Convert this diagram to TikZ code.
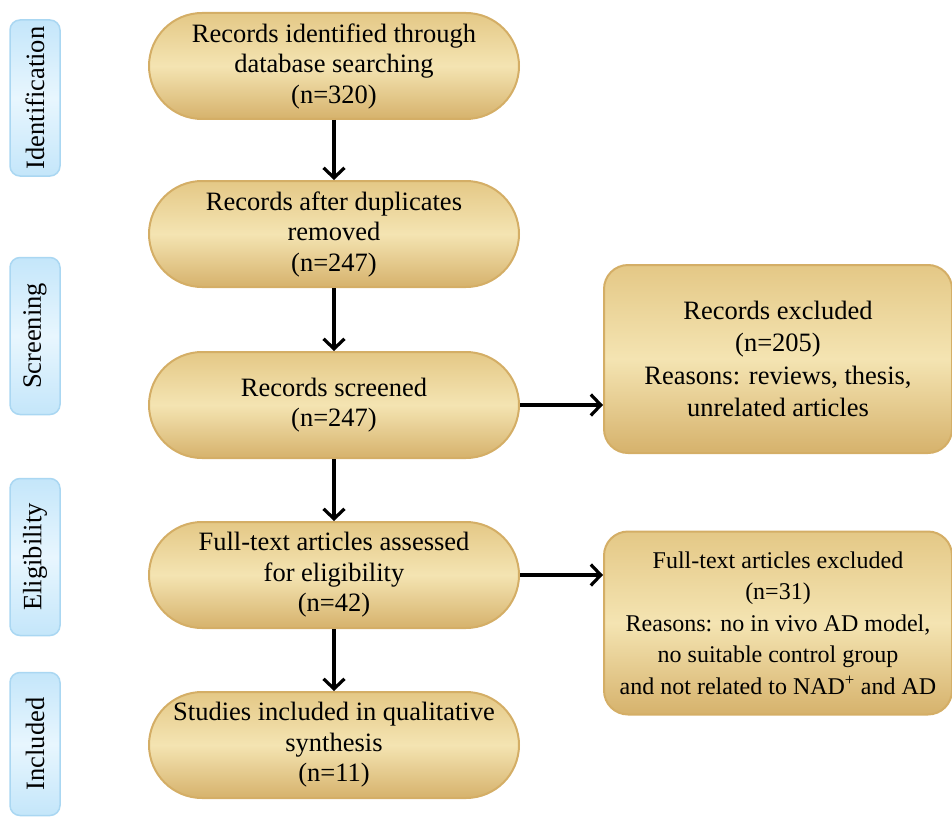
\documentclass[tikz,border=0pt]{standalone}
\usepackage{fontspec}
\setmainfont{Liberation Serif}
\usetikzlibrary{shapes.misc,arrows.meta}

\definecolor{goldedge}{RGB}{212,174,102}
\definecolor{goldtop}{RGB}{228,200,134}
\definecolor{goldmid}{RGB}{244,228,178}
\definecolor{goldbot}{RGB}{214,178,108}
\definecolor{skyedge}{RGB}{170,215,242}
\definecolor{skyfill}{RGB}{196,230,250}
\definecolor{skymid}{RGB}{232,246,254}

\begin{document}
\begin{tikzpicture}[x=1pt,y=-1pt,
  stage/.style={rounded rectangle,draw=goldedge,line width=2pt,top color=goldtop,bottom color=goldbot,middle color=goldmid,
                minimum width=372pt,minimum height=106pt,align=center,inner sep=1pt,font=\fontsize{26.5}{30.5}\selectfont},
  outbox/.style={rectangle,rounded corners=24pt,draw=goldedge,line width=2pt,top color=goldtop,bottom color=goldbot,middle color=goldmid,
                minimum width=348pt,align=center,inner sep=1pt},
  phase/.style={rectangle,rounded corners=10pt,draw=skyedge,line width=1.5pt,top color=skyfill,bottom color=skyfill,middle color=skymid,
                minimum height=50pt,rotate=90,font=\fontsize{26.5}{30}\selectfont},
  arr/.style={line width=3.2pt,-{Straight Barb[length=10pt,width=21pt,line width=3.2pt]}}]
\useasboundingbox (0,0) rectangle (952,824);

% phases
\node[phase,minimum width=156pt] (ident) at (35,98) {Identification};
\node[phase,minimum width=157pt] (screen) at (35,336) {Screening};
\node[phase,minimum width=157pt] (elig) at (35,557) {Eligibility};
\node[phase,minimum width=143pt] (incl) at (35,744) {Included};

% main flow
\node[stage] (found) at (334,66) {Records identified through\\database searching\\(n=320)};
\node[stage] (dedup) at (334,234) {Records after duplicates\\removed\\(n=247)};
\node[stage] (scr) at (334,405) {Records screened\\(n=247)};
\node[stage] (full) at (334,575) {Full-text articles assessed\\for eligibility\\(n=42)};
\node[stage] (study) at (334,745) {Studies included in qualitative\\synthesis\\(n=11)};

% exclusions
\node[outbox,minimum height=188pt,font=\fontsize{26.5}{32.5}\selectfont] (recex) at (778,359)
  {Records excluded\\(n=205)\\Reasons: reviews, thesis,\\unrelated articles};
\node[outbox,minimum height=183pt,font=\fontsize{24}{31.5}\selectfont] (fullex) at (778,623)
  {Full-text articles excluded\\(n=31)\\Reasons: no in vivo AD model,\\no suitable control group\\and not related to NAD\textsuperscript{+} and AD};

\draw[arr] (found) -- (dedup);
\draw[arr] (dedup) -- (scr);
\draw[arr] (scr) -- (full);
\draw[arr] (full) -- (study);
\draw[arr] (scr.east) -- (scr.east -| recex.west);
\draw[arr] (full.east) -- (full.east -| fullex.west);
\end{tikzpicture}
\end{document}
